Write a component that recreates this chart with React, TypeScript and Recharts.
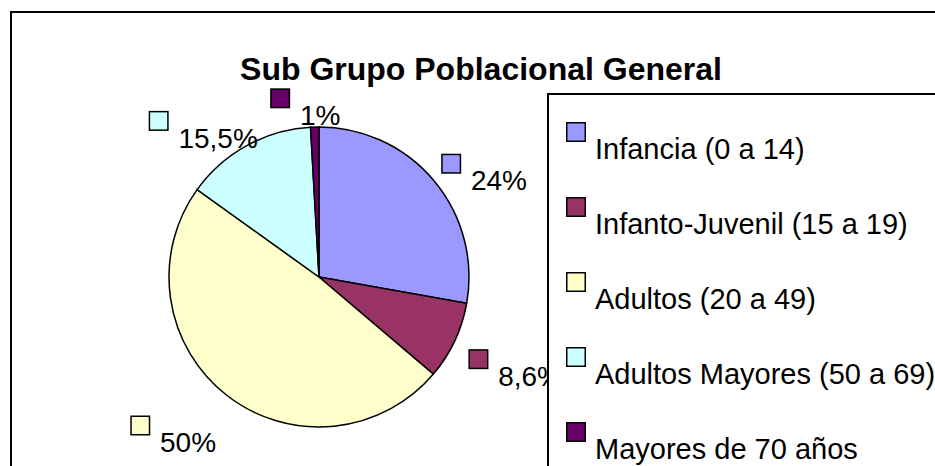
import { PieChart, Pie, Cell, Legend, Customized } from 'recharts';

const categories = [
  'Infancia (0 a 14)',
  'Infanto-Juvenil (15 a 19)',
  'Adultos (20 a 49)',
  'Adultos Mayores (50 a 69)',
  'Mayores de 70 años',
];
// slice sizes as drawn (share of the circle, %)
const shares = [27.8, 8.4, 48.7, 14.2, 0.9];
// label texts as printed on the chart
const labelTexts = ['24%', '8,6%', '50%', '15,5%', '1%'];
const colors = ['#9999FF', '#993366', '#FFFFCC', '#CCFFFF', '#660066'];

const FONT = '"Liberation Sans", Arial, sans-serif';

const data = categories.map((name, i) => ({ name, value: shares[i] }));

// rough Arial widths (em) for the label characters
const charW: Record<string, number> = { ',': 0.278, '%': 0.889 };
const textWidth = (s: string, size: number) =>
  s.split('').reduce((w, ch) => w + (charW[ch] ?? 0.556), 0) * size;

const renderLabel = (props: any) => {
  const { cx, cy, midAngle, index } = props;
  const rad = (midAngle * Math.PI) / 180;
  const text = labelTexts[index];
  const w = 29 + textWidth(text, 28);
  const bx = cx + 225 * Math.cos(rad) - 7;
  const by = cy - 183 * Math.sin(rad) + 16;
  const left = bx - w / 2;
  const top = by - 21;
  return (
    <g key={`lbl-${index}`}>
      <rect x={left} y={top} width={18.5} height={18.5} fill={colors[index]} stroke="#000" strokeWidth={1.5} />
      <text x={left + 29} y={top + 36} fontSize={28} fontFamily={FONT} fill="#000">
        {text}
      </text>
    </g>
  );
};

const LegendBox = () => (
  <div
    style={{
      width: 420,
      height: 400,
      border: '2px solid #000',
      background: '#fff',
      boxSizing: 'border-box',
    }}
  >
    <svg width={416} height={396}>
      {categories.map((name, i) => (
        <g key={name}>
          <rect
            x={17.75}
            y={27.75 + i * 75}
            width={18.5}
            height={18.5}
            fill={colors[i]}
            stroke="#000"
            strokeWidth={1.5}
          />
          <text x={46} y={64 + i * 75} fontSize={29} fontFamily={FONT} fill="#000">
            {name}
          </text>
        </g>
      ))}
    </svg>
  </div>
);

const Frame = () => (
  <g>
    <rect x={11} y={12} width={1200} height={1200} fill="none" stroke="#000" strokeWidth={2} />
    <text x={481} y={80} textAnchor="middle" fontSize={32} fontWeight="bold" fontFamily={FONT} fill="#000">
      Sub Grupo Poblacional General
    </text>
  </g>
);

export default function App() {
  return (
    <div
      style={{
        position: 'absolute',
        left: 0,
        top: 0,
        width: 935,
        height: 466,
        overflow: 'hidden',
        background: '#fff',
      }}
    >
      <PieChart width={935} height={466} margin={{ top: 0, right: 0, bottom: 0, left: 0 }}>
        <Customized component={Frame} />
        <Pie
          data={data}
          dataKey="value"
          nameKey="name"
          cx={319}
          cy={277}
          outerRadius={150}
          startAngle={90}
          endAngle={-270}
          stroke="#000"
          strokeWidth={1.5}
          label={renderLabel}
          labelLine={false}
          isAnimationActive={false}
        >
          {data.map((d, i) => (
            <Cell key={d.name} fill={colors[i]} />
          ))}
        </Pie>
        <Legend
          layout="vertical"
          align="right"
          verticalAlign="top"
          content={() => <LegendBox />}
          wrapperStyle={{ left: 547, top: 93, width: 420, height: 400 }}
        />
      </PieChart>
    </div>
  );
}
